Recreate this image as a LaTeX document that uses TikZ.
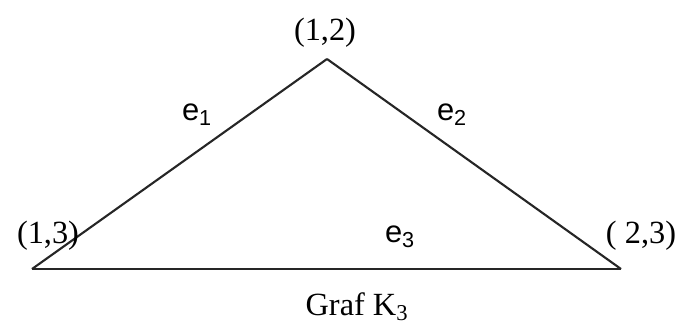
\documentclass[tikz,border=0pt]{standalone}
\usepackage{fontspec}
\setmainfont{Liberation Serif}
\newfontfamily\labelsans{Liberation Sans}

\begin{document}
\begin{tikzpicture}[x=0.025cm, y=-0.025cm,
    edge/.style={line width=1.5pt, black!85},
    vlabel/.style={font=\fontsize{23}{26}\selectfont, inner sep=0pt},
    elabel/.style={font=\labelsans\fontsize{22}{26}\selectfont, inner sep=0pt},
]
\useasboundingbox (0,0) rectangle (684,330);

%% --- vertices ---
\coordinate (v12) at (327,59);
\coordinate (v13) at (32,269);
\coordinate (v23) at (621,269);

%% --- edges ---
\draw[edge] (v13) -- (v12);
\draw[edge] (v12) -- (v23);
\draw[edge] (v23) -- (v13);

%% --- vertex labels ---
\node[vlabel] (l12) at (325,33) {(1,2)};
\node[vlabel] (l13) at (48,236) {(1,3)};
\node[vlabel] (l23) at (641,236) {( 2,3)};

%% --- edge labels ---
\node[elabel] (e1) at (197,115) {e\textsubscript{1}};
\node[elabel] (e2) at (452,115) {e\textsubscript{2}};
\node[elabel] (e3) at (400,237) {e\textsubscript{3}};

%% --- caption ---
\node[vlabel] (cap) at (357,307) {Graf K\textsubscript{3}};

\end{tikzpicture}
\end{document}
